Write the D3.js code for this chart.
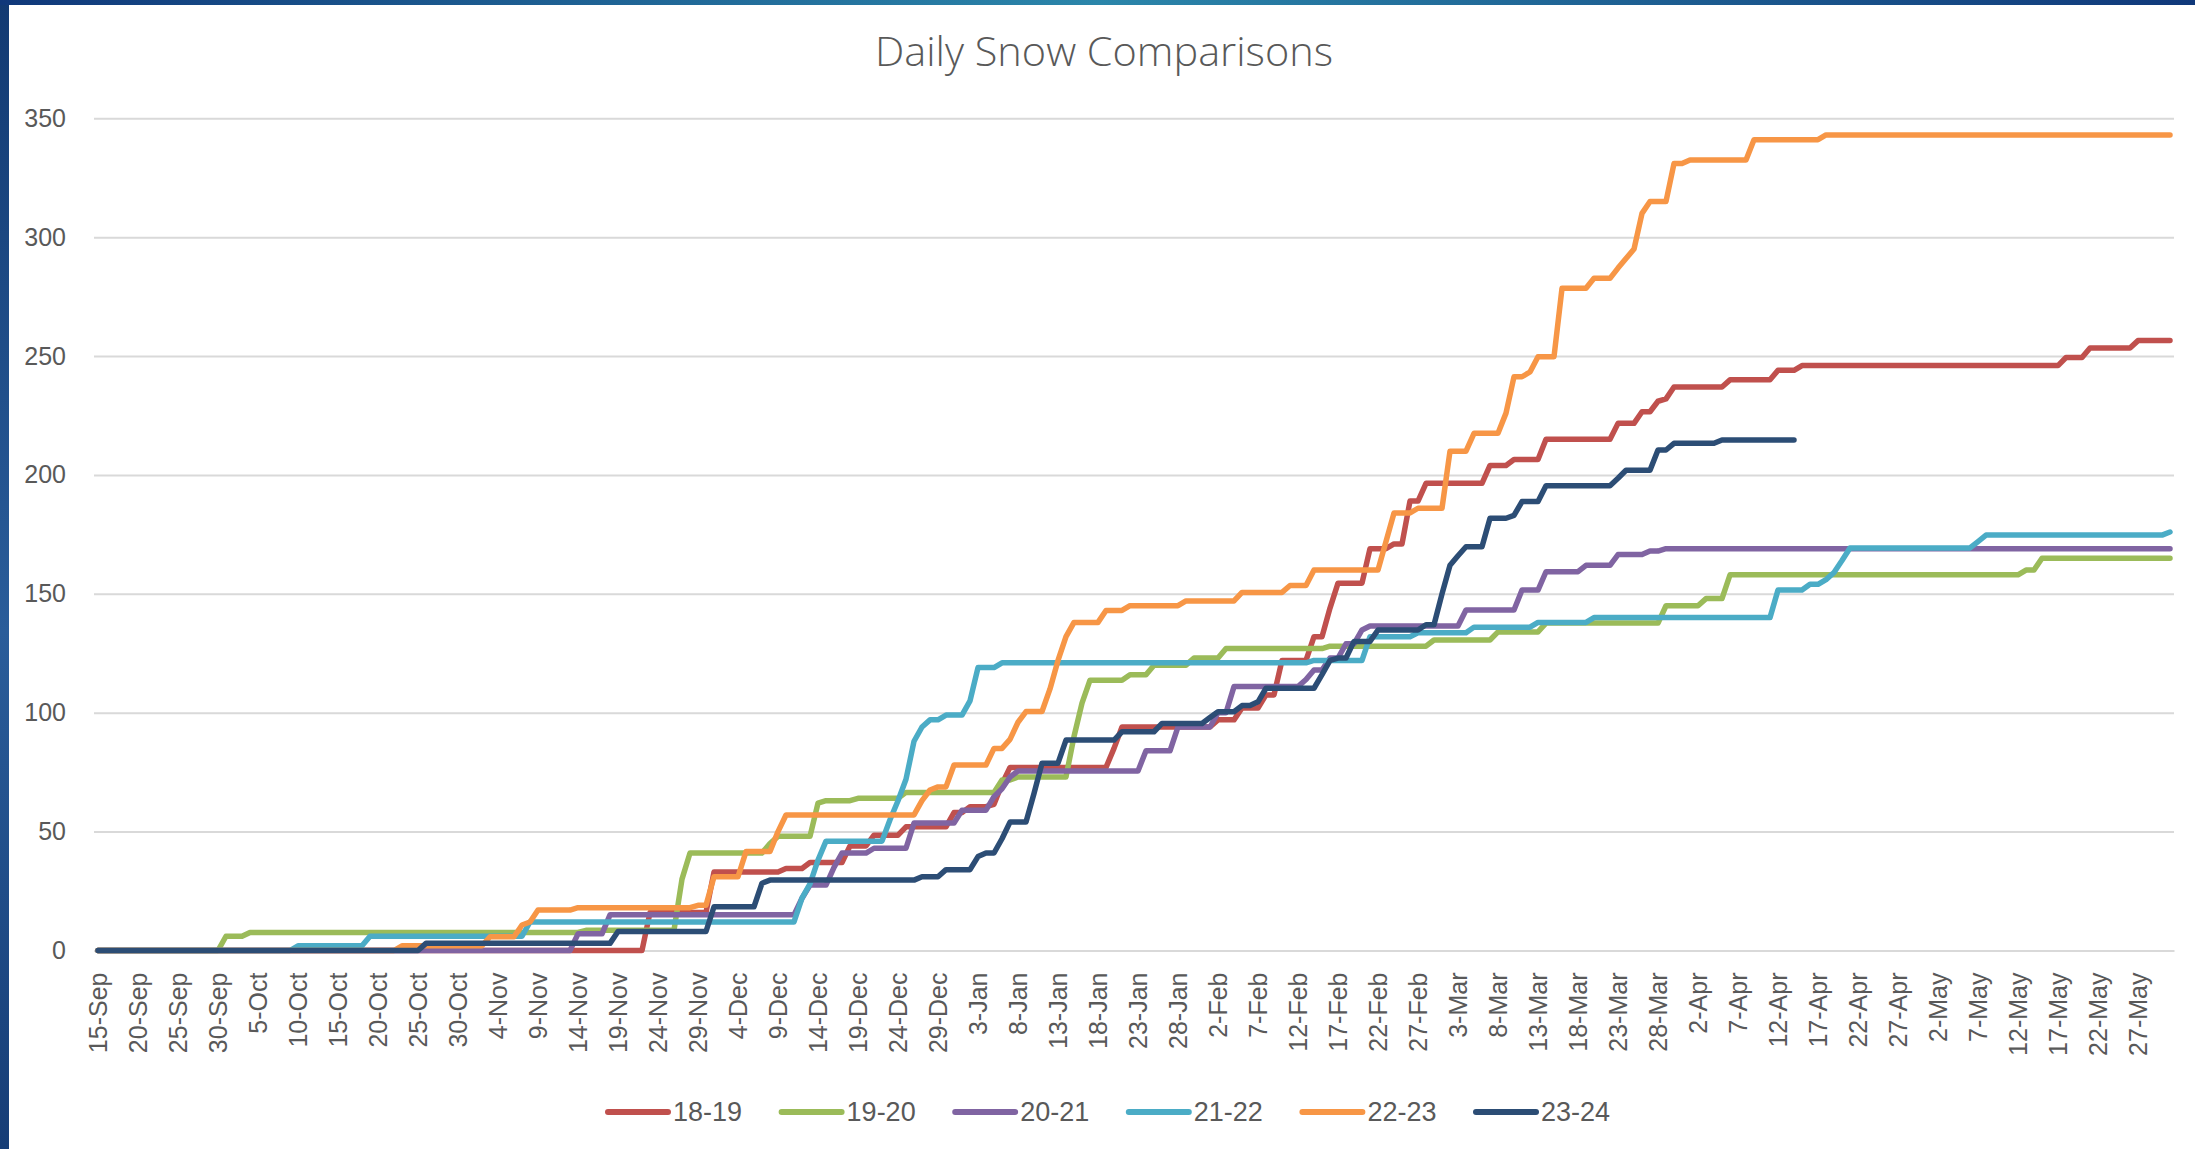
<!DOCTYPE html>
<html>
<head>
<meta charset="utf-8">
<script src="https://cdn.jsdelivr.net/npm/d3@7"></script>
<style>
  body { margin: 0; background: #fff; }
  svg { display: block; }
</style>
</head>
<body>
<div id="chart"></div>
<script>
//Series names and colours
const seasons = ['18-19', '19-20', '20-21', '21-22', '22-23', '23-24'];
const seasonColors = ['#C0504D', '#9BBB59', '#8064A2', '#4BACC6', '#F79646', '#2C4D75'];

//Category axis: one slot per day, 15-Sep to 31-May (260 days)
const dayCount = 260;
const tickLabels = [
  '15-Sep', '20-Sep', '25-Sep', '30-Sep', '5-Oct', '10-Oct', '15-Oct', '20-Oct', '25-Oct', '30-Oct',
  '4-Nov', '9-Nov', '14-Nov', '19-Nov', '24-Nov', '29-Nov', '4-Dec', '9-Dec', '14-Dec', '19-Dec',
  '24-Dec', '29-Dec', '3-Jan', '8-Jan', '13-Jan', '18-Jan', '23-Jan', '28-Jan', '2-Feb', '7-Feb',
  '12-Feb', '17-Feb', '22-Feb', '27-Feb', '3-Mar', '8-Mar', '13-Mar', '18-Mar', '23-Mar', '28-Mar',
  '2-Apr', '7-Apr', '12-Apr', '17-Apr', '22-Apr', '27-Apr', '2-May', '7-May', '12-May', '17-May',
  '22-May', '27-May'
];
const yTicks = [0, 50, 100, 150, 200, 250, 300, 350];

//Season totals: [day index from 15-Sep, cumulative snow] on days the total changed
const snow1819 = [[0, 0], [69, 16], [77, 33], [86, 34.5], [89, 37], [94, 44], [97, 48.5], [101, 52],
  [107, 58], [109, 60.5], [112, 61.5], [113, 70], [114, 77], [127, 85], [128, 94], [140, 97], [143, 102],
  [146, 107.5], [148, 122], [152, 132], [154, 144], [155, 154.5], [159, 169], [162, 171], [164, 189],
  [166, 196.5], [174, 204], [177, 206.5], [181, 215], [190, 221.7], [193, 226.6], [195, 231], [196, 232],
  [197, 237], [204, 240], [210, 244], [213, 246], [246, 249.4], [249, 253.4], [255, 256.5]];
const snow1920 = [[0, 0], [16, 6], [19, 7.6], [61, 8.5], [73, 30], [74, 41], [84, 45], [85, 48],
  [90, 62], [91, 63], [95, 64], [101, 66.5], [113, 71.7], [115, 73], [122, 90], [123, 104],
  [124, 113.7], [129, 116], [132, 120], [137, 123], [141, 127], [154, 128], [167, 130.6], [175, 134],
  [181, 137.7], [196, 145], [201, 148], [204, 158], [241, 160], [243, 165]];
const snow2021 = [[0, 0], [60, 7], [64, 15], [88, 22], [89, 27.5], [92, 35], [93, 41], [97, 43],
  [102, 53.6], [108, 59], [112, 64.7], [113, 68], [114, 73], [115, 75.5], [131, 84], [135, 94],
  [140, 100], [142, 111], [151, 114], [152, 118], [154, 123], [156, 129], [158, 134.8], [159, 136.5],
  [171, 143.2], [178, 151.6], [181, 159.3], [186, 162], [190, 166.5], [194, 168], [196, 169]];
const snow2122 = [[0, 0], [25, 2], [34, 6], [54, 12], [88, 22], [89, 28], [90, 38], [91, 46],
  [99, 55], [100, 63], [101, 72], [102, 88], [103, 94], [104, 97], [106, 99], [109, 105], [110, 119],
  [113, 121], [152, 122], [159, 132], [165, 133.6], [172, 136], [180, 138], [187, 140], [210, 151.6],
  [214, 154], [216, 156], [217, 159], [218, 164], [219, 169.3], [235, 172], [236, 174.7], [259, 176]];
const snow2223 = [[0, 0], [38, 2], [49, 5.8], [53, 10.7], [54, 12], [55, 17], [60, 18], [75, 19],
  [77, 31], [81, 41.6], [85, 50], [86, 57], [103, 63], [104, 67.5], [105, 68.8], [107, 78], [112, 85],
  [114, 88.8], [115, 96], [116, 100.5], [119, 110], [120, 122], [121, 132], [122, 138], [126, 143],
  [129, 145], [136, 147], [143, 150.6], [149, 153.5], [152, 160], [161, 172], [162, 184], [165, 186],
  [169, 210], [172, 217.5], [176, 226], [177, 241.3], [179, 243.3], [180, 249.7], [183, 278.5],
  [187, 282.7], [190, 287], [191, 291], [192, 295], [193, 310], [194, 315], [197, 331], [199, 332.5],
  [207, 341], [216, 343]];
const snow2324 = [[0, 0], [41, 3], [65, 8], [77, 18.4], [83, 28.3], [84, 29.6], [103, 31], [106, 34],
  [110, 39.5], [111, 41], [113, 47], [114, 54], [117, 66], [118, 78.8], [121, 88.5], [128, 92],
  [133, 95.5], [139, 98], [140, 100.4], [143, 103], [145, 104.6], [146, 110.3], [153, 116], [154, 122],
  [155, 123], [157, 130], [160, 134.8], [166, 137], [168, 150], [169, 162], [170, 166], [171, 169.8],
  [174, 181.8], [177, 183], [178, 188.8], [181, 195.5], [190, 198.6], [191, 202], [195, 210.5],
  [197, 213.3], [203, 214.7]];

const seasonData = [snow1819, snow1920, snow2021, snow2122, snow2223, snow2324];
const seasonLastDay = [259, 259, 259, 259, 259, 212];

//Chart dimensions
const width = 2195;
const height = 1149;
const plot = { left: 94, right: 2174, top: 118.3, bot: 950.5 };

//Scale
const xScale = d3.scalePoint()
  .domain(d3.range(dayCount))
  .range([plot.left, plot.right])
  .padding(0.5);

const yScale = d3.scaleLinear()
  .domain([0, 350])
  .range([plot.bot, plot.top]);

//svg
const svg = d3.select('#chart').append('svg')
  .attr('width', width)
  .attr('height', height);

//Frame gradients
const defs = svg.append('defs');
const topGrad = defs.append('linearGradient').attr('id', 'topGrad');
topGrad.append('stop').attr('offset', '0%').attr('stop-color', '#10387a');
topGrad.append('stop').attr('offset', '50%').attr('stop-color', '#2b86aa');
topGrad.append('stop').attr('offset', '100%').attr('stop-color', '#10387a');
const sideGrad = defs.append('linearGradient').attr('id', 'sideGrad')
  .attr('x1', 0).attr('y1', 0).attr('x2', 0).attr('y2', 1);
sideGrad.append('stop').attr('offset', '0%').attr('stop-color', '#123a72');
sideGrad.append('stop').attr('offset', '55%').attr('stop-color', '#2a5d9a');
sideGrad.append('stop').attr('offset', '100%').attr('stop-color', '#163d76');

svg.append('rect')
  .attr('width', width)
  .attr('height', height)
  .attr('fill', '#fff');

svg.append('rect')
  .attr('width', 9)
  .attr('height', height)
  .attr('fill', 'url(#sideGrad)');

svg.append('rect')
  .attr('width', width)
  .attr('height', 5)
  .attr('fill', 'url(#topGrad)');

//Title
svg.append('text')
  .attr('x', 1104)
  .attr('y', 66)
  .attr('text-anchor', 'middle')
  .attr('textLength', 458)
  .attr('lengthAdjust', 'spacingAndGlyphs')
  .style('font-family', '"Open Sans", "Liberation Sans", sans-serif')
  .style('font-weight', 300)
  .style('font-size', '40px')
  .style('fill', '#595959')
  .text('Daily Snow Comparisons');

//Axes
const yAxis = d3.axisLeft(yScale)
  .tickValues(yTicks)
  .tickSize(-(plot.right - plot.left))
  .tickPadding(28);

const yAxisGroup = svg.append('g')
  .attr('transform', `translate(${plot.left}, 0)`)
  .call(yAxis);

yAxisGroup.select('.domain').remove();
yAxisGroup.selectAll('line')
  .attr('stroke', '#d9d9d9')
  .attr('stroke-width', 2);
yAxisGroup.selectAll('text')
  .style('font-family', '"Liberation Sans", Arial, sans-serif')
  .style('font-size', '25px')
  .style('fill', '#595959');

const xAxis = d3.axisBottom(xScale)
  .tickValues(d3.range(0, dayCount, 5))
  .tickFormat((d, i) => tickLabels[i])
  .tickSize(0);

const xAxisGroup = svg.append('g')
  .attr('transform', `translate(0, ${plot.bot})`)
  .call(xAxis);

xAxisGroup.select('.domain')
  .attr('stroke', '#d9d9d9')
  .attr('stroke-width', 2);
xAxisGroup.selectAll('text')
  .attr('transform', 'rotate(-90)')
  .attr('x', -22)
  .attr('y', 0)
  .attr('dy', '0.35em')
  .style('text-anchor', 'end')
  .style('font-family', '"Liberation Sans", Arial, sans-serif')
  .style('font-size', '25px')
  .style('fill', '#595959');

//Line function: hold each total until the day before the next change
function stepPoints(readings, lastDay){
  const pts = [];
  readings.forEach(function(r, i) {
    if (i > 0) pts.push([r[0] - 1, readings[i - 1][1]]);
    pts.push(r);
  });
  const last = readings[readings.length - 1];
  if (last[0] < lastDay) pts.push([lastDay, last[1]]);
  return pts;
}

const snowLine = d3.line()
  .x(function(d) { return xScale(d[0]); })
  .y(function(d) { return yScale(d[1]); });

//Append season lines
seasonData.forEach(function(readings, i) {
  svg.append('path')
    .attr('d', snowLine(stepPoints(readings, seasonLastDay[i])))
    .attr('stroke', seasonColors[i])
    .attr('stroke-width', 5.5)
    .attr('stroke-linejoin', 'round')
    .attr('stroke-linecap', 'round')
    .attr('fill', 'none');
});

//Legend
const legend = svg.append('g')
  .attr('class', 'legend')
  .attr('transform', 'translate(605, 1112)');

seasons.forEach(function(name, i) {
  const item = legend.append('g')
    .attr('transform', `translate(${i * 173.6}, 0)`);
  item.append('line')
    .attr('x1', 3)
    .attr('x2', 63)
    .attr('stroke', seasonColors[i])
    .attr('stroke-width', 6)
    .attr('stroke-linecap', 'round');
  item.append('text')
    .attr('x', 68)
    .attr('dy', '0.35em')
    .style('font-family', '"Liberation Sans", Arial, sans-serif')
    .style('font-size', '27px')
    .style('fill', '#595959')
    .text(name);
});
</script>
</body>
</html>
